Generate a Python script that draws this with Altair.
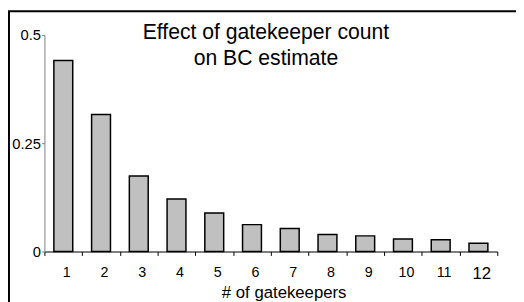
import altair as alt
import pandas as pd

categories = [str(i) for i in range(1, 13)]
values = [0.441, 0.316, 0.174, 0.121, 0.089, 0.062, 0.053, 0.039, 0.036, 0.029, 0.027, 0.019]
y_ticks = [0, 0.25, 0.5]
title_lines = ["Effect of gatekeeper count", "on BC estimate"]
x_title = "# of gatekeepers"

df = pd.DataFrame({"k": categories, "bc": values})
FONT = "Liberation Sans"

bars = alt.Chart(df).mark_bar(
    width={"band": 0.5}, fill="#c0c0c0", stroke="#000000", strokeWidth=1.5
).encode(
    x=alt.X(
        "k:N", sort=categories,
        scale=alt.Scale(paddingInner=0, paddingOuter=0),
        axis=alt.Axis(
            title=x_title, titleFont=FONT, titleFontSize=17, titleFontWeight="normal",
            titleColor="#000", titleX=243, titleY=47, titleBaseline="alphabetic",
            labelAngle=0, labelFont=FONT, labelColor="#000",
            labelFontSize={"condition": {"test": "datum.label == '12'", "value": 17}, "value": 14.5},
            labelPadding=10, labelOffset=3,
            tickBand="extent", tickSize=4, tickColor="#000", domainColor="#000",
            domainWidth=1.2, grid=False,
        ),
    ),
    y=alt.Y(
        "bc:Q",
        scale=alt.Scale(domain=[0, 0.5], nice=False),
        axis=alt.Axis(
            title=None, values=y_ticks, format=".2~f",
            labelFont=FONT, labelFontSize=15, labelColor="#000", labelPadding=1,
            tickSize=3, tickColor="#808080", domainColor="#808080", grid=False,
        ),
    ),
)

frame = alt.Chart(pd.DataFrame({"a": [0]})).mark_rect(
    filled=False, stroke="#000000", strokeWidth=2
).encode(
    x=alt.value(-36), y=alt.value(-24), x2=alt.value(800), y2=alt.value(800)
)

title = alt.Chart(pd.DataFrame({"a": [0]})).mark_text(
    text=title_lines, font=FONT, fontSize=21.5, lineHeight=27,
    align="center", baseline="alphabetic", color="#000"
).encode(x=alt.value(225), y=alt.value(4))

chart = alt.layer(frame, bars, title).properties(
    width=460, height=220,
    autosize=alt.AutoSizeParams(type="none"),
    padding={"left": 37, "top": 25, "right": 19, "bottom": 49},
).configure_view(stroke=None)

chart.save("out.html", embed_options={"renderer": "svg", "actions": False})
